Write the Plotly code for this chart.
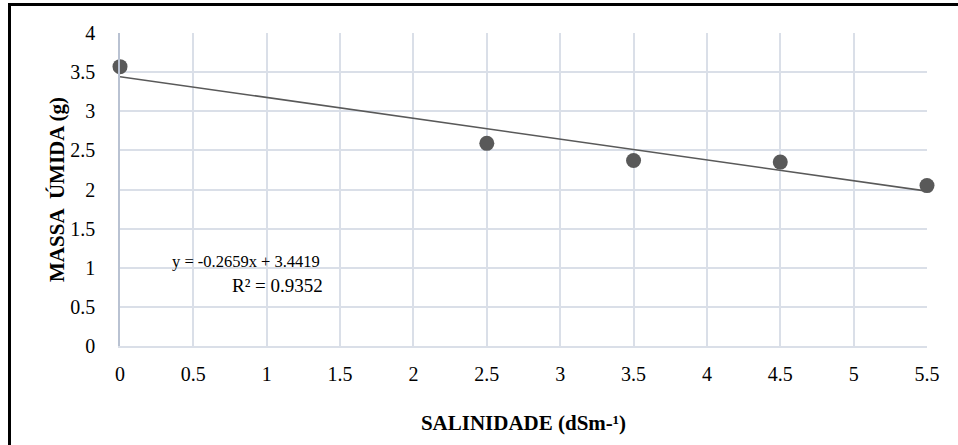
import plotly.graph_objects as go
import numpy as np

# Data
salinidade = [0, 2.5, 3.5, 4.5, 5.5]
massa_umida = [3.57, 2.59, 2.37, 2.35, 2.05]

# Trendline coefficients (from the chart label)
slope = -0.2659
intercept = 3.4419
r2 = 0.9352

x_ticks = [0, 0.5, 1, 1.5, 2, 2.5, 3, 3.5, 4, 4.5, 5, 5.5]
y_ticks = [0, 0.5, 1, 1.5, 2, 2.5, 3, 3.5, 4]

W, H = 958, 445
ML, MR, MT, MB = 120, 31, 33, 99

FONT = "Liberation Serif, Times New Roman, serif"
GRID = "#DADFE8"

fig = go.Figure()

tx = np.array([min(salinidade), max(salinidade)])
fig.add_trace(go.Scatter(
    x=tx, y=slope * tx + intercept, mode="lines",
    line=dict(color="#595959", width=1.6), hoverinfo="skip", showlegend=False,
    cliponaxis=False,
))
fig.add_trace(go.Scatter(
    x=salinidade, y=massa_umida, mode="markers",
    marker=dict(color="#595959", size=15), showlegend=False, cliponaxis=False,
))

fig.add_annotation(
    x=1.377, y=1.086, xref="x", yref="y", xanchor="right", yanchor="middle",
    text=f"y = {slope}x + {intercept}", showarrow=False,
    font=dict(family=FONT, size=16.5, color="#000000"),
)
fig.add_annotation(
    x=1.40, y=0.767, xref="x", yref="y", xanchor="right", yanchor="middle",
    text=f"R² = {r2}", showarrow=False,
    font=dict(family=FONT, size=19, color="#000000"),
)

# outer black frame (left and top edges visible)
pw = W - ML - MR
ph = H - MT - MB
def px_to_paper_x(px):
    return (px - ML) / pw
def px_to_paper_y(py):
    return (H - MB - py) / ph

fig.add_shape(
    type="rect", xref="paper", yref="paper",
    x0=px_to_paper_x(9.5), x1=px_to_paper_x(W + 20),
    y0=px_to_paper_y(H + 20), y1=px_to_paper_y(4.5),
    line=dict(color="#000000", width=3), fillcolor="rgba(0,0,0,0)",
    layer="above",
)

fig.update_layout(
    width=W, height=H,
    margin=dict(l=ML, r=MR, t=MT, b=MB),
    paper_bgcolor="white", plot_bgcolor="white",
    font=dict(family=FONT, color="#000000"),
    xaxis=dict(
        range=[0, 5.5], tickvals=x_ticks, ticktext=[f"{v:g}" for v in x_ticks],
        showgrid=True, gridcolor=GRID, gridwidth=1.5,
        zeroline=False, showline=True, linecolor=GRID, linewidth=1.5,
        ticks="", ticklabelstandoff=9,
        tickfont=dict(family=FONT, size=20, color="#000000"),
        title=dict(text="<b>SALINIDADE (dSm-¹)</b>", standoff=32,
                   font=dict(family=FONT, size=21, color="#000000")),
    ),
    yaxis=dict(
        range=[0, 4], tickvals=y_ticks, ticktext=[f"{v:g}" for v in y_ticks],
        showgrid=True, gridcolor=GRID, gridwidth=1.5,
        zeroline=False, showline=True, linecolor="#B9C2D2", linewidth=1.5,
        ticks="", ticklabelstandoff=19,
        tickfont=dict(family=FONT, size=20, color="#000000"),
        title=dict(text="<b>MASSA  ÚMIDA (g)</b>", standoff=0,
                   font=dict(family=FONT, size=21, color="#000000")),
    ),
)

fig.write_html("out.html", config={"displayModeBar": False},
               post_script="document.body.style.margin='0px';")
